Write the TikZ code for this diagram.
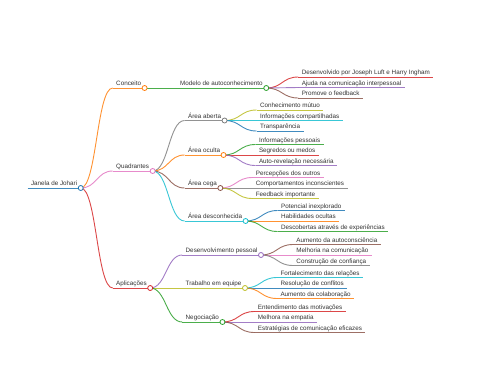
\documentclass[tikz,border=0pt]{standalone}
\usepackage{fontspec}
\setmainfont{Liberation Sans}
\usetikzlibrary{calc}
\definecolor{cBlue}{HTML}{1F77B4}
\definecolor{cOrange}{HTML}{FF7F0E}
\definecolor{cGreen}{HTML}{2CA02C}
\definecolor{cRed}{HTML}{D62728}
\definecolor{cPurple}{HTML}{9467BD}
\definecolor{cBrown}{HTML}{8C564B}
\definecolor{cPink}{HTML}{E377C2}
\definecolor{cGray}{HTML}{7F7F7F}
\definecolor{cOlive}{HTML}{BCBD22}
\definecolor{cCyan}{HTML}{17BECF}
\definecolor{txt}{HTML}{333333}
\tikzset{
  mmtext/.style={anchor=south west, inner xsep=3.5pt, inner ysep=0pt, outer sep=0pt,
    text depth=2.4pt, text=txt, font=\fontsize{6.3}{7}\selectfont},
  mmline/.style={line width=0.9pt, opacity=0.85},
  mmedge/.style={line width=0.9pt, opacity=0.85},
  mmdot/.style={circle, minimum size=5pt, inner sep=0pt, line width=0.8pt, fill=white}
}
\newcommand\mmlink[3]{%
  \path (#2) -- (#3) coordinate[pos=0.5] (mmmid);
  \draw[#1, mmedge] (#2) .. controls (mmmid |- #2) and (mmmid |- #3) .. (#3);}
\newcommand\mmnode[5]{%
  \node[mmtext, xshift=32pt] (#1) at (#2.south east |- 0,#3) {#5};
  \draw[#4, mmline] (#1.south west) -- (#1.south east);
  \mmlink{#4}{#2.south east}{#1.south west}}
\begin{document}
\begin{tikzpicture}[x=1pt, y=-1pt]
\useasboundingbox[fill=white] (0,0) rectangle (480,384);
\node[mmtext] (root) at (27.5,188) {Janela de Johari};
\draw[cBlue, mmline] (root.south west) -- (root.south east);
% level 1
\mmnode{conceito}{root}{88}{cOrange}{Conceito}
\mmnode{quad}{root}{171}{cPink}{Quadrantes}
\mmnode{apl}{root}{288}{cRed}{Aplicações}
% Conceito
\mmnode{modelo}{conceito}{88}{cGreen}{Modelo de autoconhecimento}
\mmnode{m1}{modelo}{77}{cRed}{Desenvolvido por Joseph Luft e Harry Ingham}
\mmnode{m2}{modelo}{87.5}{cPurple}{Ajuda na comunicação interpessoal}
\mmnode{m3}{modelo}{98}{cBrown}{Promove o feedback}
% Quadrantes
\mmnode{aberta}{quad}{120.5}{cGray}{Área aberta}
\mmnode{a1}{aberta}{110}{cOlive}{Conhecimento mútuo}
\mmnode{a2}{aberta}{120.5}{cCyan}{Informações compartilhadas}
\mmnode{a3}{aberta}{131}{cBlue}{Transparência}
\mmnode{oculta}{quad}{155}{cOrange}{Área oculta}
\mmnode{o1}{oculta}{144.5}{cGreen}{Informações pessoais}
\mmnode{o2}{oculta}{155}{cRed}{Segredos ou medos}
\mmnode{o3}{oculta}{165.5}{cPurple}{Auto-revelação necessária}
\mmnode{cega}{quad}{188}{cBrown}{Área cega}
\mmnode{c1}{cega}{177.5}{cPink}{Percepções dos outros}
\mmnode{c2}{cega}{188}{cGray}{Comportamentos inconscientes}
\mmnode{c3}{cega}{198.5}{cOlive}{Feedback importante}
\mmnode{desc}{quad}{221}{cCyan}{Área desconhecida}
\mmnode{d1}{desc}{210.5}{cBlue}{Potencial inexplorado}
\mmnode{d2}{desc}{221}{cOrange}{Habilidades ocultas}
\mmnode{d3}{desc}{231.5}{cGreen}{Descobertas através de experiências}
% Aplicações
\mmnode{desenv}{apl}{255}{cPurple}{Desenvolvimento pessoal}
\mmnode{p1}{desenv}{244.5}{cBrown}{Aumento da autoconsciência}
\mmnode{p2}{desenv}{255}{cPink}{Melhoria na comunicação}
\mmnode{p3}{desenv}{265.5}{cGray}{Construção de confiança}
\mmnode{trab}{apl}{288}{cOlive}{Trabalho em equipe}
\mmnode{t1}{trab}{277.5}{cCyan}{Fortalecimento das relações}
\mmnode{t2}{trab}{288}{cBlue}{Resolução de conflitos}
\mmnode{t3}{trab}{298.5}{cOrange}{Aumento da colaboração}
\mmnode{neg}{apl}{322}{cGreen}{Negociação}
\mmnode{n1}{neg}{311.5}{cRed}{Entendimento das motivações}
\mmnode{n2}{neg}{322}{cPurple}{Melhora na empatia}
\mmnode{n3}{neg}{332.5}{cBrown}{Estratégias de comunicação eficazes}
% circles
\foreach \n/\c in {root/cBlue, conceito/cOrange, quad/cPink, apl/cRed, modelo/cGreen,
  aberta/cGray, oculta/cOrange, cega/cBrown, desc/cCyan, desenv/cPurple, trab/cOlive, neg/cGreen}
  \node[mmdot, draw=\c] at (\n.south east) {};
\end{tikzpicture}
\end{document}
